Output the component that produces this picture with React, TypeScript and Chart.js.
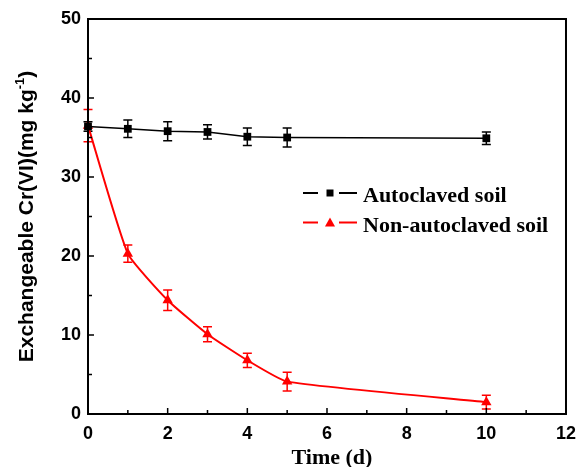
import React, { useEffect, useRef } from 'react';
import { Chart, registerables } from 'chart.js';

Chart.register(...registerables);

const days = [0, 1, 2, 3, 4, 5, 10];
const autoclaved = [36.4, 36.1, 35.8, 35.7, 35.1, 35.0, 34.9];
const autoclavedErr = [0.6, 1.1, 1.2, 0.9, 1.1, 1.2, 0.8];
const nonAutoclaved = [36.5, 20.3, 14.4, 10.1, 6.8, 4.1, 1.5];
const nonAutoclavedErr = [2.05, 1.1, 1.3, 0.95, 0.9, 1.2, 0.86];
const xTicks = [0, 2, 4, 6, 8, 10, 12];
const yTicks = [0, 10, 20, 30, 40, 50];
const seriesNames = ['Autoclaved soil', 'Non-autoclaved soil'];
const xTitle = 'Time (d)';
const yTitleMain = 'Exchangeable Cr(VI)(mg kg';
const yTitleSup = '-1';
const yTitleEnd = ')';

const BLACK = '#000000';
const RED = '#ff0000';

const customPlugin = {
  id: 'customDecor',
  beforeDatasetsDraw(chart: any) {
    const ctx = chart.ctx;
    const xs = chart.scales.x;
    const ys = chart.scales.y;
    const sets = [
      { vals: autoclaved, errs: autoclavedErr, color: BLACK },
      { vals: nonAutoclaved, errs: nonAutoclavedErr, color: RED },
    ];
    ctx.save();
    sets.forEach((s) => {
      ctx.strokeStyle = s.color;
      ctx.lineWidth = 1.5;
      s.vals.forEach((v, i) => {
        const px = xs.getPixelForValue(days[i]);
        const top = ys.getPixelForValue(v + s.errs[i]);
        const bot = ys.getPixelForValue(v - s.errs[i]);
        ctx.beginPath();
        ctx.moveTo(px, top);
        ctx.lineTo(px, bot);
        ctx.moveTo(px - 4.5, top);
        ctx.lineTo(px + 4.5, top);
        ctx.moveTo(px - 4.5, bot);
        ctx.lineTo(px + 4.5, bot);
        ctx.stroke();
      });
    });
    ctx.restore();
  },
  afterDraw(chart: any) {
    const ctx = chart.ctx;
    const { left, right, top, bottom } = chart.chartArea;
    const xs = chart.scales.x;
    const ys = chart.scales.y;
    ctx.save();
    // frame
    ctx.strokeStyle = '#000';
    ctx.lineWidth = 2;
    ctx.strokeRect(left, top, right - left, bottom - top);
    // inward ticks
    ctx.lineWidth = 1.5;
    ctx.beginPath();
    for (let v = 0; v <= 50; v += 5) {
      const py = ys.getPixelForValue(v);
      const len = v % 10 === 0 ? 6 : 4;
      ctx.moveTo(left, py);
      ctx.lineTo(left + len, py);
    }
    for (let v = 0; v <= 12; v += 1) {
      const px = xs.getPixelForValue(v);
      const len = v % 2 === 0 ? 6 : 4;
      ctx.moveTo(px, bottom);
      ctx.lineTo(px, bottom - len);
    }
    ctx.stroke();

    // x title
    ctx.fillStyle = '#000';
    ctx.font = 'bold 22px "Liberation Serif", "Times New Roman", serif';
    ctx.textAlign = 'center';
    ctx.textBaseline = 'alphabetic';
    ctx.fillText(xTitle, 332, 464);

    // y title with superscript
    ctx.save();
    ctx.translate(33, 216.5);
    ctx.rotate(-Math.PI / 2);
    const mainFont = 'bold 21px "Liberation Sans", Arial, sans-serif';
    const supFont = 'bold 13px "Liberation Sans", Arial, sans-serif';
    ctx.font = mainFont;
    const w1 = ctx.measureText(yTitleMain).width;
    const w3 = ctx.measureText(yTitleEnd).width;
    ctx.font = supFont;
    const w2 = ctx.measureText(yTitleSup).width;
    const total = w1 + w2 + w3;
    let cx = -total / 2;
    ctx.textAlign = 'left';
    ctx.font = mainFont;
    ctx.fillText(yTitleMain, cx, 0);
    cx += w1;
    ctx.font = supFont;
    ctx.fillText(yTitleSup, cx, -9);
    cx += w2;
    ctx.font = mainFont;
    ctx.fillText(yTitleEnd, cx, 0);
    ctx.restore();

    // legend
    const rows = [
      { y: 193, color: BLACK, shape: 'rect', baseline: 202 },
      { y: 222.5, color: RED, shape: 'tri', baseline: 232 },
    ];
    rows.forEach((r, i) => {
      ctx.strokeStyle = r.color;
      ctx.fillStyle = r.color;
      ctx.lineWidth = 2;
      ctx.beginPath();
      ctx.moveTo(303, r.y);
      ctx.lineTo(318, r.y);
      ctx.moveTo(339, r.y);
      ctx.lineTo(357, r.y);
      ctx.stroke();
      ctx.beginPath();
      if (r.shape === 'rect') {
        ctx.rect(326.5, r.y - 3.5, 7, 7);
      } else {
        ctx.moveTo(330, r.y - 5);
        ctx.lineTo(335, r.y + 4);
        ctx.lineTo(325, r.y + 4);
        ctx.closePath();
      }
      ctx.fill();
      ctx.fillStyle = '#000';
      ctx.font = 'bold 22px "Liberation Serif", "Times New Roman", serif';
      ctx.textAlign = 'left';
      ctx.textBaseline = 'alphabetic';
      ctx.fillText(seriesNames[i], 363, r.baseline);
    });
    ctx.restore();
  },
};

export default function App() {
  const ref = useRef<HTMLCanvasElement | null>(null);
  useEffect(() => {
    if (!ref.current) return;
    const tickFont = { family: '"Liberation Sans", Arial, sans-serif', size: 18, weight: 'bold' as const };
    const chart = new Chart(ref.current, {
      type: 'line',
      data: {
        datasets: [
          {
            label: seriesNames[0],
            data: days.map((d, i) => ({ x: d, y: autoclaved[i] })),
            borderColor: BLACK,
            backgroundColor: BLACK,
            borderWidth: 1.5,
            pointStyle: 'rect',
            pointRadius: 5.5,
            pointBorderWidth: 0,
            tension: 0,
          },
          {
            label: seriesNames[1],
            data: days.map((d, i) => ({ x: d, y: nonAutoclaved[i] })),
            borderColor: RED,
            backgroundColor: RED,
            borderWidth: 2,
            pointStyle: 'triangle',
            pointRadius: 6,
            pointBorderWidth: 0,
            tension: 0.15,
          },
        ],
      },
      options: {
        animation: false,
        responsive: false,
        maintainAspectRatio: false,
        clip: false as any,
        layout: { padding: { top: 19, right: 11, left: 0, bottom: 0 } },
        plugins: { legend: { display: false }, tooltip: { enabled: false } },
        scales: {
          x: {
            type: 'linear',
            min: 0,
            max: 12,
            afterBuildTicks: (s: any) => {
              s.ticks = xTicks.map((v) => ({ value: v }));
            },
            afterFit: (s: any) => {
              s.height = 53;
            },
            grid: { display: false, drawTicks: false },
            border: { display: false },
            ticks: { font: tickFont, color: '#000', padding: 9, maxRotation: 0, autoSkip: false },
          },
          y: {
            type: 'linear',
            min: 0,
            max: 50,
            afterBuildTicks: (s: any) => {
              s.ticks = yTicks.map((v) => ({ value: v }));
            },
            afterFit: (s: any) => {
              s.width = 88;
            },
            grid: { display: false, drawTicks: false },
            border: { display: false },
            ticks: { font: tickFont, color: '#000', padding: 7, autoSkip: false },
          },
        },
      },
      plugins: [customPlugin],
    });
    return () => chart.destroy();
  }, []);
  return (
    <div style={{ position: 'fixed', left: 0, top: 0, width: 585, height: 467, background: '#fff' }}>
      <canvas ref={ref} width={585} height={467} style={{ width: 585, height: 467 }} />
    </div>
  );
}
